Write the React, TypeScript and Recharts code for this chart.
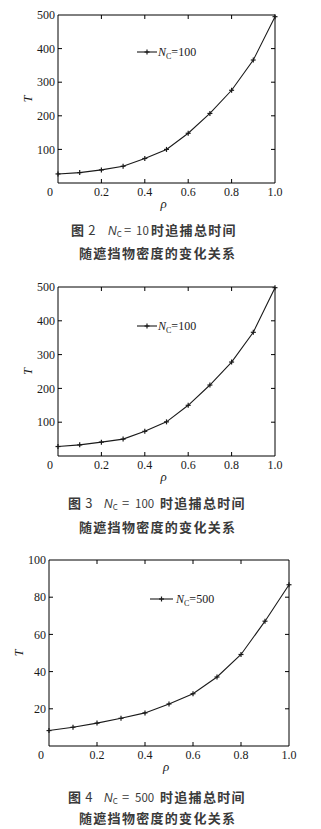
import React from "react";
import {
  Line,
  LineChart,
  ReferenceArea,
  XAxis,
  YAxis,
} from "recharts";

// density of obstacles (rho) and total capture time T
const rho = [0, 0.1, 0.2, 0.3, 0.4, 0.5, 0.6, 0.7, 0.8, 0.9, 1.0];
const timeNc10 = [27, 31, 39, 50, 73, 100, 148, 207, 276, 366, 495];
const timeNc100 = [28, 33, 41, 50, 73, 101, 150, 210, 278, 366, 498];
const timeNc500 = [8.3, 10.1, 12.3, 14.9, 17.8, 22.6, 28.1, 37.1, 49.2, 67.1, 86.7];

const rhoTicks = [0, 0.2, 0.4, 0.6, 0.8, 1.0];
const timeTicks500 = [100, 200, 300, 400, 500];
const timeTicks100 = [20, 40, 60, 80, 100];

const SERIF = "Liberation Serif, DejaVu Serif, serif";
const CJK = "Noto Sans CJK SC, Noto Sans, sans-serif";
const INK = "#1a1a1a";

interface Geom {
  top: number; // page offset of the chart block
  left: number;
  plotTop: number;
  plotBottom: number;
  plotRight: number;
}

interface Caption {
  y1: number;
  y2: number;
  figX: number;
  nX: number;
  eqX: number;
  ncX: number;
  textX: number;
}

interface PanelProps {
  values: number[];
  yMax: number;
  yTicks: number[];
  g: Geom;
  legendNc: string;
  legendX: number;
  legendY: number;
  legendLen: number;
  figNo: string;
  nc: string;
  cap: Caption;
}

const Plus = ({ cx, cy }: { cx: number; cy: number }) => (
  <g stroke={INK} strokeWidth={1.2}>
    <line x1={cx - 2.5} x2={cx + 2.5} y1={cy} y2={cy} />
    <line x1={cx} x2={cx} y1={cy - 2.5} y2={cy + 2.5} />
  </g>
);

const capStyle: React.CSSProperties = {
  position: "absolute",
  whiteSpace: "nowrap",
  fontFamily: CJK,
  fontSize: 13,
  fontWeight: 700,
  color: "#3a3a3a",
  letterSpacing: 1.3,
  lineHeight: "16px",
};

function Panel({
  values,
  yMax,
  yTicks,
  g,
  legendNc,
  legendX,
  legendY,
  legendLen,
  figNo,
  nc,
  cap,
}: PanelProps) {
  const data = rho.map((r, i) => ({ rho: r, t: values[i] }));
  const chartW = 321;
  const chartH = g.plotBottom + 40;

  const xTick = (props: any) => {
    const { x, payload } = props;
    const v = payload.value as number;
    return (
      <g>
        {v > 0 && v < 1 && (
          <g stroke="#000" strokeWidth={1}>
            <line x1={x} x2={x} y1={g.plotBottom} y2={g.plotBottom - 4} />
            <line x1={x} x2={x} y1={g.plotTop} y2={g.plotTop + 4} />
          </g>
        )}
        <text
          x={v === 0 ? x - 8 : x}
          y={g.plotBottom + 13}
          textAnchor="middle"
          fontFamily={SERIF}
          fontSize={12}
          fill={INK}
        >
          {v === 0 ? "0" : v.toFixed(1)}
        </text>
      </g>
    );
  };

  const yTick = (props: any) => {
    const { y, payload } = props;
    const v = payload.value as number;
    return (
      <g>
        {v < yMax && (
          <g stroke="#000" strokeWidth={1}>
            <line x1={g.left} x2={g.left + 4} y1={y} y2={y} />
            <line x1={g.plotRight} x2={g.plotRight - 4} y1={y} y2={y} />
          </g>
        )}
        <text
          x={g.left - 3}
          y={y}
          dy="0.35em"
          textAnchor="end"
          fontFamily={SERIF}
          fontSize={12}
          fill={INK}
        >
          {v}
        </text>
      </g>
    );
  };

  const midY = (g.plotTop + g.plotBottom) / 2;
  const midX = (g.left + g.plotRight) / 2;

  return (
    <div style={{ position: "absolute", left: 0, top: g.top, width: chartW, height: chartH }}>
      <LineChart
        width={chartW}
        height={chartH}
        data={data}
        margin={{
          top: g.plotTop,
          left: g.left - 40,
          right: chartW - g.plotRight,
          bottom: chartH - g.plotBottom - 20,
        }}
      >
        <XAxis
          dataKey="rho"
          type="number"
          domain={[0, 1]}
          ticks={rhoTicks}
          height={20}
          tickLine={false}
          axisLine={false}
          tick={xTick}
          label={{
            content: () => (
              <text
                x={midX - 3}
                y={g.plotBottom + 25}
                textAnchor="middle"
                fontFamily={SERIF}
                fontStyle="italic"
                fontSize={13}
                fill={INK}
              >
                ρ
              </text>
            ),
          }}
        />
        <YAxis
          type="number"
          domain={[0, yMax]}
          ticks={yTicks}
          width={40}
          tickLine={false}
          axisLine={false}
          tick={yTick}
          label={{
            content: () => (
              <text
                x={g.left - 26}
                y={midY}
                textAnchor="middle"
                transform={`rotate(-90 ${g.left - 26} ${midY})`}
                fontFamily={SERIF}
                fontStyle="italic"
                fontSize={12}
                fill={INK}
              >
                T
              </text>
            ),
          }}
        />
        <ReferenceArea x1={0} x2={1} y1={0} y2={yMax} fill="none" stroke="#000" strokeWidth={1} />
        <Line
          type="linear"
          dataKey="t"
          stroke={INK}
          strokeWidth={1.1}
          dot={(p: any) => <Plus key={p.index} cx={p.cx} cy={p.cy} />}
          activeDot={false}
          isAnimationActive={false}
        />
      </LineChart>

      <div
        style={{
          position: "absolute",
          left: legendX,
          top: legendY - 8,
          height: 16,
          display: "flex",
          alignItems: "center",
          whiteSpace: "nowrap",
        }}
      >
        <svg width={legendLen} height={16}>
          <line x1={0} x2={legendLen} y1={8} y2={8} stroke={INK} strokeWidth={1.1} />
          <Plus cx={legendLen / 2} cy={8} />
        </svg>
        <span style={{ marginLeft: legendLen > 21 ? 3 : 1, fontFamily: SERIF, fontSize: 12, color: INK }}>
          <i>N</i>
          <span style={{ fontSize: 8, position: "relative", top: 3 }}>C</span>={legendNc}
        </span>
      </div>

      <span style={{ ...capStyle, left: cap.figX, top: cap.y1 - 8 }}>
        图<span style={{ marginLeft: 3, fontWeight: 400 }}>{figNo}</span>
      </span>
      <span style={{ ...capStyle, left: cap.nX, top: cap.y1 - 8, fontWeight: 400, letterSpacing: 0 }}>
        <i style={{ fontFamily: "Liberation Sans, Arial, sans-serif", fontSize: 12 }}>N</i>
        <span style={{ fontSize: 8, position: "relative", top: 2 }}>C</span>
      </span>
      <span style={{ ...capStyle, left: cap.eqX, top: cap.y1 - 8, fontWeight: 400 }}>=</span>
      <span
        style={{
          ...capStyle,
          left: cap.ncX,
          top: cap.y1 - 8,
          fontSize: 11.5,
          fontWeight: 400,
          letterSpacing: 0,
        }}
      >
        {nc}
      </span>
      <span style={{ ...capStyle, left: cap.textX, top: cap.y1 - 8 }}>时追捕总时间</span>
      <span style={{ ...capStyle, left: 79, top: cap.y2 - 8 }}>随遮挡物密度的变化关系</span>
    </div>
  );
}

export default function App() {
  return (
    <div
      style={{
        position: "absolute",
        left: 0,
        top: 0,
        width: 321,
        height: 829,
        background: "#fff",
        overflow: "hidden",
      }}
    >
      <Panel
        values={timeNc10}
        yMax={500}
        yTicks={timeTicks500}
        g={{ top: 0, left: 58, plotTop: 15, plotBottom: 183, plotRight: 275 }}
        legendNc="100"
        legendX={137}
        legendY={52}
        legendLen={20}
        figNo="2"
        nc="10"
        cap={{ y1: 230, y2: 253, figX: 71, nX: 108, eqX: 124, ncX: 136, textX: 151 }}
      />
      <Panel
        values={timeNc100}
        yMax={500}
        yTicks={timeTicks500}
        g={{ top: 270, left: 58, plotTop: 17, plotBottom: 186, plotRight: 275 }}
        legendNc="100"
        legendX={137}
        legendY={56}
        legendLen={20}
        figNo="3"
        nc="100"
        cap={{ y1: 233, y2: 257, figX: 68, nX: 104, eqX: 122, ncX: 135, textX: 160 }}
      />
      <Panel
        values={timeNc500}
        yMax={100}
        yTicks={timeTicks100}
        g={{ top: 550, left: 49, plotTop: 10, plotBottom: 196, plotRight: 289 }}
        legendNc="500"
        legendX={150}
        legendY={49}
        legendLen={23}
        figNo="4"
        nc="500"
        cap={{ y1: 247, y2: 268, figX: 68, nX: 104, eqX: 122, ncX: 135, textX: 160 }}
      />
    </div>
  );
}
